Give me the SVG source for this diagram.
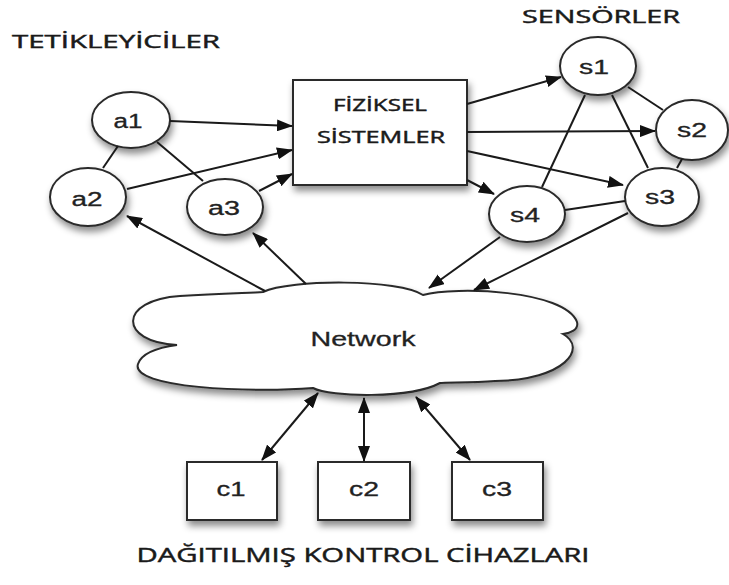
<svg xmlns="http://www.w3.org/2000/svg" width="729" height="585" viewBox="0 0 729 585">
<style>
.node{fill:#fff;stroke:#2a2a2a;stroke-width:2;filter:url(#sh)}
.lbl{font-family:"Liberation Sans",Arial,sans-serif;font-size:20px;fill:#222;stroke:#222;stroke-width:0.3;text-anchor:middle}
.ttl{font-family:"Open Sans","DejaVu Sans",sans-serif;fill:#1a1a1a;stroke:#1a1a1a;stroke-width:0.45;text-anchor:middle}
.edge{stroke:#1a1a1a;stroke-width:2;fill:none}
.arr{marker-end:url(#ah)}
.bi{marker-end:url(#ah);marker-start:url(#ahs)}
</style>
<defs>
<filter id="sh" x="-30%" y="-30%" width="160%" height="170%">
<feDropShadow dx="2" dy="5" stdDeviation="3.5" flood-color="#000" flood-opacity="0.45"/>
</filter>
<marker id="ah" markerUnits="userSpaceOnUse" markerWidth="16" markerHeight="12" viewBox="0 0 16 12" refX="15" refY="6" orient="auto">
<path d="M0,0 L16,6 L0,12 z" fill="#111"/>
</marker>
<marker id="ahs" markerUnits="userSpaceOnUse" markerWidth="16" markerHeight="12" viewBox="0 0 16 12" refX="15" refY="6" orient="auto-start-reverse">
<path d="M0,0 L16,6 L0,12 z" fill="#111"/>
</marker>
</defs>
<rect width="729" height="585" fill="#fff"/>

<text class="ttl" x="116" y="48" font-size="18" textLength="208" lengthAdjust="spacingAndGlyphs">TETİKLEYİCİLER</text>
<text class="ttl" x="601" y="23" font-size="18" textLength="158" lengthAdjust="spacingAndGlyphs">SENSÖRLER</text>
<text class="ttl" x="363" y="562" font-size="20" textLength="453" lengthAdjust="spacingAndGlyphs">DAĞITILMIŞ KONTROL CİHAZLARI</text>

<g id="network">
<path class="node" d="M177,345 C118,342 118,300 180,296 C220,293 250,293 263,292 C290,279 400,279 423,295 C455,286 565,290 577,322 C579,330 570,333 563,334 C588,348 565,380 495,381 C470,383 445,382 440,383 C410,399 330,397 313,388 C250,393 130,388 138,364 C142,352 162,347 177,345 Z"/>
<text class="lbl" x="363" y="346" font-size="21" textLength="105" lengthAdjust="spacingAndGlyphs">Network</text>
</g>

<g id="fiziksel">
<rect class="node" x="293" y="80" width="174" height="105"/>
<text class="ttl" x="380" y="111" font-size="17" textLength="94" lengthAdjust="spacingAndGlyphs">FİZİKSEL</text>
<text class="ttl" x="381" y="143" font-size="17" textLength="128" lengthAdjust="spacingAndGlyphs">SİSTEMLER</text>
</g>

<g id="a1"><ellipse class="node" cx="131" cy="120" rx="39" ry="28"/><text class="lbl" x="128" y="128" textLength="29" lengthAdjust="spacingAndGlyphs">a1</text></g>
<g id="a2"><ellipse class="node" cx="88" cy="197" rx="38" ry="29"/><text class="lbl" x="87" y="206" textLength="31" lengthAdjust="spacingAndGlyphs">a2</text></g>
<g id="a3"><ellipse class="node" cx="225" cy="207" rx="38" ry="28"/><text class="lbl" x="224" y="215" textLength="32" lengthAdjust="spacingAndGlyphs">a3</text></g>

<g id="s1"><ellipse class="node" cx="598" cy="66" rx="38" ry="29"/><text class="lbl" x="594" y="74" textLength="30" lengthAdjust="spacingAndGlyphs">s1</text></g>
<g id="s2"><ellipse class="node" cx="692" cy="130" rx="36" ry="30"/><text class="lbl" x="692" y="137" textLength="30" lengthAdjust="spacingAndGlyphs">s2</text></g>
<g id="s3"><ellipse class="node" cx="662" cy="197" rx="37" ry="29"/><text class="lbl" x="660" y="204" textLength="30" lengthAdjust="spacingAndGlyphs">s3</text></g>
<g id="s4"><ellipse class="node" cx="527" cy="214" rx="38" ry="28"/><text class="lbl" x="525" y="222" textLength="30" lengthAdjust="spacingAndGlyphs">s4</text></g>

<g id="c1"><rect class="node" x="187" y="462" width="90" height="58"/><text class="lbl" x="231" y="496" textLength="29" lengthAdjust="spacingAndGlyphs">c1</text></g>
<g id="c2"><rect class="node" x="318" y="462" width="92" height="58"/><text class="lbl" x="364" y="496" textLength="30" lengthAdjust="spacingAndGlyphs">c2</text></g>
<g id="c3"><rect class="node" x="452" y="462" width="91" height="58"/><text class="lbl" x="497" y="496" textLength="30" lengthAdjust="spacingAndGlyphs">c3</text></g>

<g id="connectors">
<line class="edge arr" x1="170" y1="121" x2="292" y2="126"/>
<line class="edge arr" x1="127" y1="189" x2="292" y2="150"/>
<line class="edge arr" x1="259" y1="191" x2="292" y2="174"/>
<line class="edge" x1="103" y1="168" x2="118" y2="146"/>
<line class="edge" x1="157" y1="142" x2="203" y2="181"/>
<line class="edge arr" x1="265" y1="291" x2="127" y2="216"/>
<line class="edge arr" x1="306" y1="284" x2="253" y2="233"/>
<line class="edge arr" x1="467" y1="104" x2="561" y2="77"/>
<line class="edge arr" x1="467" y1="132" x2="655" y2="131"/>
<line class="edge arr" x1="467" y1="151" x2="623" y2="185"/>
<line class="edge arr" x1="467" y1="180" x2="494" y2="194"/>
<line class="edge" x1="628" y1="87" x2="663" y2="110"/>
<line class="edge" x1="612" y1="95" x2="648" y2="168"/>
<line class="edge" x1="585" y1="95" x2="542" y2="187"/>
<line class="edge" x1="682" y1="159" x2="677" y2="168"/>
<line class="edge" x1="565" y1="210" x2="625" y2="201"/>
<line class="edge arr" x1="500" y1="237" x2="429" y2="288"/>
<line class="edge arr" x1="628" y1="213" x2="474" y2="290"/>
<line class="edge bi" x1="318" y1="393" x2="262" y2="460"/>
<line class="edge bi" x1="364" y1="398" x2="364" y2="461"/>
<line class="edge bi" x1="416" y1="397" x2="470" y2="460"/>
</g>
</svg>
